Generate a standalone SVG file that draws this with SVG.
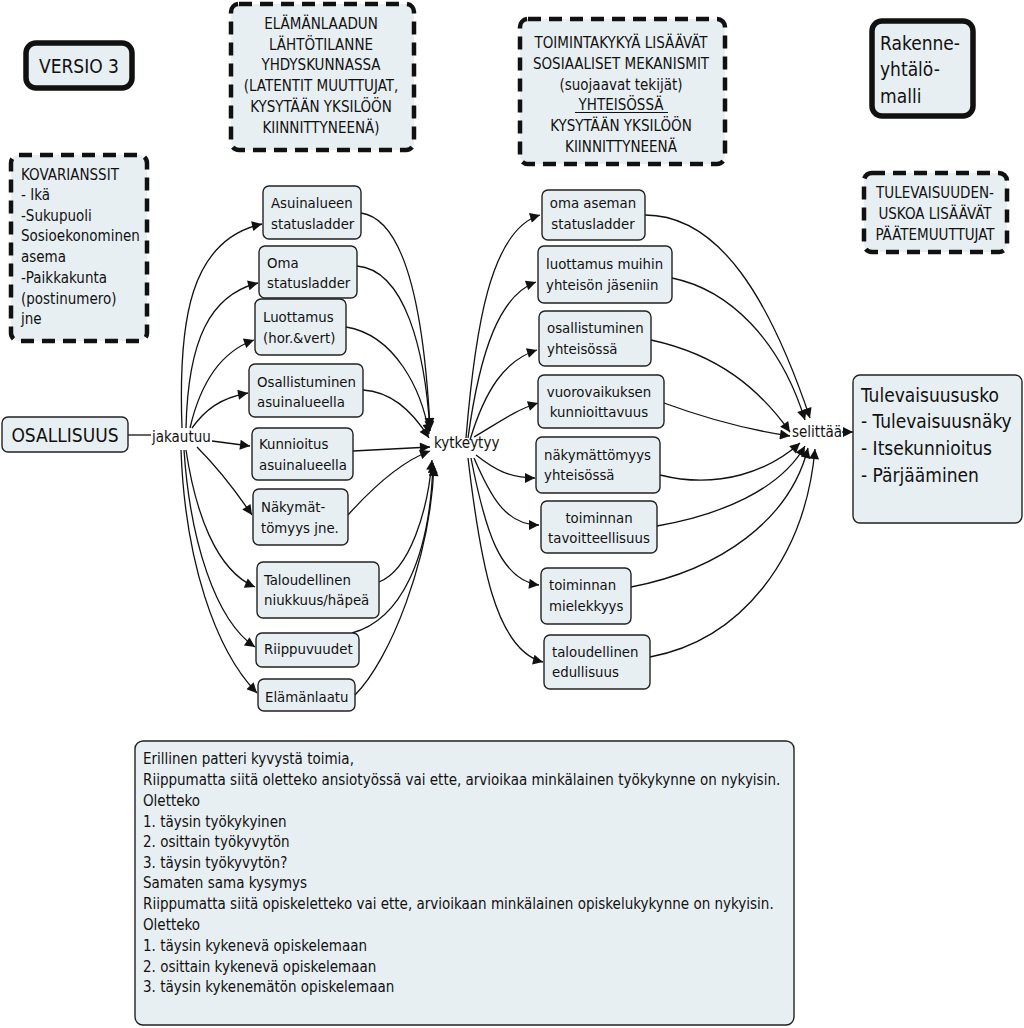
<svg xmlns="http://www.w3.org/2000/svg" width="1024" height="1028" viewBox="0 0 1024 1028">
<style>
.t{font-family:"DejaVu Sans Condensed","DejaVu Sans",sans-serif;font-stretch:condensed;font-size:15px;fill:#111}
.n{font-size:14.8px}
.b{font-size:19px}
.c{text-anchor:middle}
.node{fill:#e8eff3;stroke:#222;stroke-width:1.4}
.dash{fill:#e8eff3;stroke:#111;stroke-width:4.5;stroke-dasharray:13 8}
.thick{fill:#e8eff3;stroke:#111;stroke-width:5.5}
.con path{fill:none;stroke:#111;stroke-width:1.3}
.con .a{marker-end:url(#ah)}
</style>
<defs>
<marker id="ah" viewBox="0 0 10 10" refX="10" refY="5" markerWidth="13" markerHeight="10" markerUnits="userSpaceOnUse" orient="auto"><path d="M0,0 L10,5 L0,10 z" fill="#111"/></marker>
</defs>
<rect width="1024" height="1028" fill="#fff"/>

<g class="con">
<path d="M128,435 L151,435"/>
<path class="a" d="M182,428 C178,320 190,240 262,224"/>
<path class="a" d="M186,428 C188,340 210,295 258,283"/>
<path class="a" d="M190,428 C200,385 220,352 254,340"/>
<path class="a" d="M192,428 C205,410 220,398 248,393"/>
<path class="a" d="M212,441 L250,446"/>
<path class="a" d="M197,447 C215,465 235,490 252,515"/>
<path class="a" d="M186,450 C195,510 215,570 255,587"/>
<path class="a" d="M184,450 C190,540 215,620 255,647"/>
<path class="a" d="M181,450 C185,560 215,650 257,693"/>
<path class="a" d="M361,213 C410,220 425,330 430,428"/>
<path class="a" d="M357,266 C405,270 425,350 430,431"/>
<path class="a" d="M346,327 C395,335 422,390 429,434"/>
<path class="a" d="M363,390 C395,392 415,415 429,438"/>
<path class="a" d="M353,451 L430,447"/>
<path class="a" d="M348,515 C375,485 405,460 430,451"/>
<path class="a" d="M379,582 C410,570 428,510 432,460"/>
<path class="a" d="M352,633 C400,620 430,560 433,463"/>
<path class="a" d="M355,695 C390,660 430,560 434,466"/>
<path class="a" d="M466,438 C475,330 490,230 540,215"/>
<path class="a" d="M468,438 C480,350 500,295 536,282"/>
<path class="a" d="M470,440 C485,390 505,360 537,350"/>
<path class="a" d="M474,437 C495,425 515,410 538,403"/>
<path class="a" d="M476,455 C495,470 510,478 535,478"/>
<path class="a" d="M474,458 C490,495 505,525 539,525"/>
<path class="a" d="M471,458 C485,530 500,580 539,585"/>
<path class="a" d="M468,458 C480,560 495,650 543,662"/>
<path class="a" d="M645,215 C720,215 770,300 810,418"/>
<path class="a" d="M672,278 C730,290 780,340 805,420"/>
<path class="a" d="M651,340 C720,355 760,390 790,432"/>
<path class="a" d="M664,403 C710,420 750,430 790,436"/>
<path class="a" d="M660,475 C720,490 770,470 800,443"/>
<path class="a" d="M657,526 C720,515 780,490 805,446"/>
<path class="a" d="M631,587 C720,570 790,520 808,448"/>
<path class="a" d="M650,657 C740,640 805,560 815,449"/>
<path class="a" d="M842,432 L853,432"/>
</g>

<g id="versio3"><rect class="thick" x="26" y="43" width="106" height="45" rx="10"/><text class="t b c" x="79" y="73">VERSIO 3</text></g>

<g id="elamanlaadun"><rect class="dash" x="231" y="4" width="183" height="146" rx="8"/>
<text class="t c" x="321" y="29">ELÄMÄNLAADUN</text>
<text class="t c" x="321" y="50">LÄHTÖTILANNE</text>
<text class="t c" x="321" y="70">YHDYSKUNNASSA</text>
<text class="t c" x="321" y="91">(LATENTIT MUUTTUJAT,</text>
<text class="t c" x="321" y="112">KYSYTÄÄN YKSILÖÖN</text>
<text class="t c" x="321" y="133">KIINNITTYNEENÄ)</text></g>

<g id="toimintakykya"><rect class="dash" x="520" y="19" width="205" height="145" rx="8"/>
<text class="t c" x="621" y="48">TOIMINTAKYKYÄ LISÄÄVÄT</text>
<text class="t c" x="621" y="69">SOSIAALISET MEKANISMIT</text>
<text class="t c" x="621" y="90">(suojaavat tekijät)</text>
<text class="t c" x="621" y="110">YHTEISÖSSÄ</text>
<path d="M575,112.5 L668,112.5" stroke="#111" stroke-width="1.2"/>
<text class="t c" x="621" y="131">KYSYTÄÄN YKSILÖÖN</text>
<text class="t c" x="621" y="152">KIINNITTYNEENÄ</text></g>

<g id="rakenne"><rect class="thick" x="872" y="21" width="101" height="95" rx="10"/>
<text class="t b" x="880" y="50">Rakenne-</text>
<text class="t b" x="880" y="76">yhtälö-</text>
<text class="t b" x="880" y="103">malli</text></g>

<g id="tulevaisuuden"><rect class="dash" x="864" y="173" width="143" height="79" rx="8"/>
<text class="t c" x="935" y="198">TULEVAISUUDEN-</text>
<text class="t c" x="935" y="219">USKOA LISÄÄVÄT</text>
<text class="t c" x="935" y="240">PÄÄTEMUUTTUJAT</text></g>

<g id="kovarianssit"><rect class="dash" x="11" y="155" width="136" height="186" rx="8"/>
<text class="t" x="21" y="180">KOVARIANSSIT</text>
<text class="t" x="21" y="200">- Ikä</text>
<text class="t" x="21" y="221">-Sukupuoli</text>
<text class="t" x="21" y="241">Sosioekonominen</text>
<text class="t" x="21" y="262">asema</text>
<text class="t" x="21" y="283">-Paikkakunta</text>
<text class="t" x="21" y="304">(postinumero)</text>
<text class="t" x="21" y="324">jne</text></g>

<g id="osallisuus"><rect class="node" x="2" y="417" width="126" height="35" rx="6"/><text class="t b c" x="65" y="442">OSALLISUUS</text></g>
<g id="jakautuu"><text class="t" x="152" y="442">jakautuu</text></g>
<g id="kytkeytyy"><text class="t" x="434" y="448">kytkeytyy</text></g>
<g id="selittaa"><text class="t" x="792" y="437">selittää</text></g>

<g id="asuinalueen"><rect class="node" x="263" y="186" width="98" height="53" rx="6"/><text class="t n" x="271" y="208">Asuinalueen</text><text class="t n" x="271" y="229">statusladder</text></g>
<g id="oma"><rect class="node" x="259" y="246" width="98" height="52" rx="6"/><text class="t n" x="267" y="268">Oma</text><text class="t n" x="267" y="288">statusladder</text></g>
<g id="luottamus"><rect class="node" x="255" y="299" width="91" height="56" rx="6"/><text class="t n" x="263" y="322">Luottamus</text><text class="t n" x="263" y="343">(hor.&amp;vert)</text></g>
<g id="osallistuminen1"><rect class="node" x="249" y="364" width="114" height="53" rx="6"/><text class="t n" x="257" y="387">Osallistuminen</text><text class="t n" x="257" y="407">asuinalueella</text></g>
<g id="kunnioitus"><rect class="node" x="252" y="428" width="101" height="52" rx="6"/><text class="t n" x="259" y="449">Kunnioitus</text><text class="t n" x="259" y="470">asuinalueella</text></g>
<g id="nakymat"><rect class="node" x="253" y="489" width="95" height="56" rx="6"/><text class="t n" x="261" y="512">Näkymät-</text><text class="t n" x="261" y="533">tömyys jne.</text></g>
<g id="taloudellinen1"><rect class="node" x="257" y="562" width="122" height="56" rx="6"/><text class="t n" x="264" y="585">Taloudellinen</text><text class="t n" x="264" y="605">niukkuus/häpeä</text></g>
<g id="riippuvuudet"><rect class="node" x="256" y="633" width="103" height="34" rx="6"/><text class="t n" x="264" y="654">Riippuvuudet</text></g>
<g id="elamanlaatu"><rect class="node" x="258" y="679" width="97" height="32" rx="6"/><text class="t n" x="265" y="702">Elämänlaatu</text></g>

<g id="omaaseman"><rect class="node" x="542" y="190" width="103" height="50" rx="6"/><text class="t n c" x="593" y="208">oma aseman</text><text class="t n c" x="593" y="229">statusladder</text></g>
<g id="luottamusmuihin"><rect class="node" x="538" y="246" width="134" height="57" rx="6"/><text class="t n" x="546" y="269">luottamus muihin</text><text class="t n" x="546" y="290">yhteisön jäseniin</text></g>
<g id="osallistuminen2"><rect class="node" x="539" y="311" width="112" height="55" rx="6"/><text class="t n" x="547" y="333">osallistuminen</text><text class="t n" x="547" y="354">yhteisössä</text></g>
<g id="vuorovaikuksen"><rect class="node" x="538" y="375" width="126" height="53" rx="6"/><text class="t n c" x="599" y="397">vuorovaikuksen</text><text class="t n c" x="599" y="417">kunnioittavuus</text></g>
<g id="nakymattomyys"><rect class="node" x="536" y="437" width="124" height="56" rx="6"/><text class="t n" x="544" y="460">näkymättömyys</text><text class="t n" x="544" y="480">yhteisössä</text></g>
<g id="tavoitteellisuus"><rect class="node" x="541" y="501" width="116" height="52" rx="6"/><text class="t n c" x="599" y="523">toiminnan</text><text class="t n c" x="599" y="543">tavoitteellisuus</text></g>
<g id="mielekkyys"><rect class="node" x="541" y="568" width="90" height="56" rx="6"/><text class="t n" x="549" y="590">toiminnan</text><text class="t n" x="549" y="611">mielekkyys</text></g>
<g id="edullisuus"><rect class="node" x="544" y="635" width="106" height="54" rx="6"/><text class="t n" x="552" y="657">taloudellinen</text><text class="t n" x="552" y="677">edullisuus</text></g>

<g id="tulevaisuususko"><rect class="node" x="853" y="375" width="169" height="148" rx="7"/>
<text class="t b" x="861" y="402">Tulevaisuususko</text>
<text class="t b" x="861" y="428">- Tulevaisuusnäky</text>
<text class="t b" x="861" y="455">- Itsekunnioitus</text>
<text class="t b" x="861" y="482">- Pärjääminen</text></g>

<g id="patteri"><rect class="node" x="135" y="741" width="659" height="284" rx="8"/>
<text class="t" x="143" y="764">Erillinen patteri kyvystä toimia,</text>
<text class="t" x="143" y="785">Riippumatta siitä oletteko ansiotyössä vai ette, arvioikaa minkälainen työkykynne on nykyisin.</text>
<text class="t" x="143" y="806">Oletteko</text>
<text class="t" x="143" y="827">1. täysin työkykyinen</text>
<text class="t" x="143" y="847">2. osittain työkyvytön</text>
<text class="t" x="143" y="868">3. täysin työkyvytön?</text>
<text class="t" x="143" y="888">Samaten sama kysymys</text>
<text class="t" x="143" y="909">Riippumatta siitä opiskeletteko vai ette, arvioikaan minkälainen opiskelukykynne on nykyisin.</text>
<text class="t" x="143" y="930">Oletteko</text>
<text class="t" x="143" y="951">1. täysin kykenevä opiskelemaan</text>
<text class="t" x="143" y="972">2. osittain kykenevä opiskelemaan</text>
<text class="t" x="143" y="992">3. täysin kykenemätön opiskelemaan</text></g>
</svg>
